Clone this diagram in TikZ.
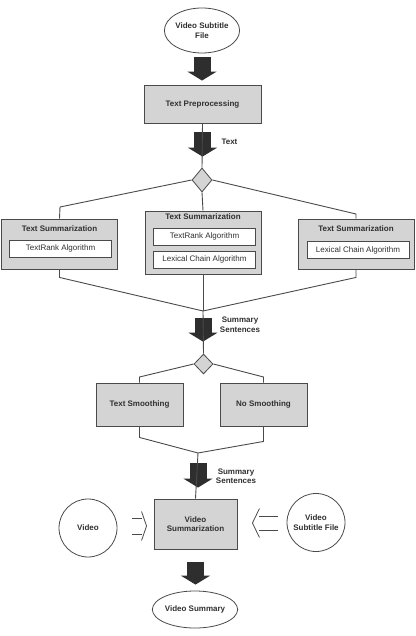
\documentclass[tikz,border=0pt]{standalone}
\usepackage{fontspec}
\setmainfont{Liberation Sans}
\usetikzlibrary{shapes.geometric,arrows.meta}
\definecolor{boxgray}{HTML}{D4D4D4}
\definecolor{linegray}{HTML}{4A4A4A}
\definecolor{arrowgray}{HTML}{2E2E2E}
\definecolor{textgray}{HTML}{303030}
\begin{document}
\begin{tikzpicture}
[x=1pt,y=-1pt,
  font=\fontsize{8}{9.5}\selectfont\bfseries,text=textgray,
  boxdecorate/.style={shape=rectangle,draw=linegray,fill=boxgray,line width=0.9pt,inner sep=0pt,align=center},%
  innerdecorate/.style={shape=rectangle,draw=linegray,fill=white,line width=0.9pt,inner sep=0pt,%
    minimum width=102pt,minimum height=17pt,font=\fontsize{8}{9.5}\selectfont},%
  ovaldecorate/.style={shape=ellipse,draw=linegray,fill=white,line width=0.8pt,inner sep=0pt,align=center},%
  rounddecorate/.style={shape=circle,draw=linegray,fill=white,line width=0.8pt,minimum size=58pt,inner sep=0pt,align=center},%
  choicedecorate/.style={shape=diamond,draw=linegray,fill=boxgray,line width=0.8pt,inner sep=0pt},%
  linedecorate/.style={-,draw=linegray,line width=0.9pt},%
  fatdecorate/.style={draw=arrowgray,line width=17pt,-{Triangle[length=9pt,width=29pt]}},%
  opendecorate/.style={-,draw=linegray,line width=0.8pt,line join=miter}]
\useasboundingbox (0,0) rectangle (415,636);
%% nodes or vertices
\node (src) at (202,30.5) [ovaldecorate,minimum width=70pt,minimum height=45pt] {Video Subtitle\\File};
\node (prep) at (202.5,104) [boxdecorate,minimum width=117pt,minimum height=38pt] {Text Preprocessing};
\node (dia1) at (202,180) [choicedecorate,minimum width=20pt,minimum height=24pt] {};
\foreach \nodename/\x/\y/\h/\ty in {ts1/59.5/244/50/229, ts2/203/242.5/63/217, ts3/356/244/50/229} {
  \node (\nodename) at (\x,\y) [boxdecorate,minimum width=116pt,minimum height=\h pt] {};
  \node (\nodename title) at (\x,\ty) {Text Summarization};
}
\foreach \nodename/\x/\y/\name in {alg1/60.5/248.5/TextRank Algorithm,
  alg2/204.5/236.5/TextRank Algorithm, alg3/204.5/259.5/Lexical Chain Algorithm,
  alg4/358/250/Lexical Chain Algorithm} {
  \node (\nodename) at (\x,\y) [innerdecorate] {\name};
}
\node (dia2) at (203.5,364) [choicedecorate,minimum width=19pt,minimum height=20pt] {};
\foreach \nodename/\x/\name in {sm1/139.5/Text Smoothing, sm2/263.5/No Smoothing} {
  \node (\nodename) at (\x,404.5) [boxdecorate,minimum width=87pt,minimum height=43pt] {\name};
}
\node (vsum) at (195.5,524) [boxdecorate,minimum width=83pt,minimum height=50pt] {Video\\Summarization};
\node (vid) at (88,528) [rounddecorate] {Video};
\node (vsf) at (316,522.5) [rounddecorate] {Video\\Subtitle File};
\node (vsumm) at (195,609.5) [ovaldecorate,minimum width=74pt,minimum height=37pt] {Video Summary};
\coordinate (join1) at (203,311);
\coordinate (join2) at (198,453);
\coordinate (vidtip) at ([xshift=-7pt,yshift=-2pt]vsum.west);
\coordinate (vsftip) at ([xshift=15pt,yshift=1pt]vsum.east);
%% labels
\node (textlabel) at (218,142) [anchor=west] {Text};
\node (sumlabel1) at (240,324.5) [align=center] {Summary\\Sentences};
\node (sumlabel2) at (236,476) [align=center] {Summary\\Sentences};
%% block arrows
\foreach \startnode/\endnode/\pre/\post in {src/prep/4/4, prep/dia1/9/11,
  join1/dia2/7/12, join2/vsum/10/11, vsum/vsumm/13/6} {
  \draw[fatdecorate,shorten <=\pre pt,shorten >=\post pt] (\startnode) -- (\startnode |- \endnode.north);
}
%% edges or lines
\draw[linedecorate] (prep.south) -- (dia1.north);
\draw[linedecorate] (dia1.west) -- (60,207) -- (ts1.north);
\draw[linedecorate] (dia1.south) -- (ts2.north);
\draw[linedecorate] (dia1.east) -- (356,214) -- (ts3.north);
\draw[linedecorate] (ts1.south) -- ++(0,8) -- (join1);
\draw[linedecorate] (ts2.south) -- (join1);
\draw[linedecorate] (ts3.south) -- ++(0,8) -- (join1);
\draw[linedecorate] (join1) -- (dia2.north);
\draw[linedecorate] (dia2.west) -- (139.5,377) -- (sm1.north);
\draw[linedecorate] (dia2.east) -- (263.5,377) -- (sm2.north);
\draw[linedecorate] (sm1.south) -- ++(0,11) -- (join2);
\draw[linedecorate] (sm2.south) -- ++(0,15) -- (join2);
\draw[linedecorate] (join2) -- (vsum.north);
%% open arrows
\foreach \tipname/\far/\near/\gap in {vidtip/-15/-5/8, vsftip/26/7/7} {
  \draw[opendecorate] ([shift={(\far,-\gap)}]\tipname) -- ([shift={(\near,-\gap)}]\tipname);
  \draw[opendecorate] ([shift={(\far,\gap)}]\tipname) -- ([shift={(\near,\gap)}]\tipname);
  \draw[opendecorate] ([shift={(\near,-14.5)}]\tipname) -- (\tipname) -- ([shift={(\near,14.5)}]\tipname);
}
\end{tikzpicture}
\end{document}
